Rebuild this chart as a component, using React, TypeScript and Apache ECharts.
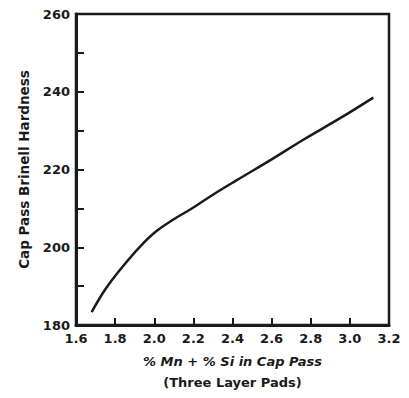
import React, { useEffect, useRef } from "react";
import * as echarts from "echarts";

const mnSi = [1.68, 1.75, 1.84, 1.93, 2.01, 2.1, 2.19, 2.29, 2.42, 2.6, 2.76, 2.95, 3.12];
const hardness = [183.3, 189.2, 195.1, 200.3, 204.1, 207.2, 209.9, 213.2, 217.2, 222.6, 227.6, 233.2, 238.5];

const xTitle = "% Mn + % Si in Cap Pass";
const xSubtitle = "(Three Layer Pads)";
const yTitle = "Cap Pass Brinell Hardness";

const FONT = "DejaVu Sans";

export default function App() {
  const ref = useRef<HTMLDivElement>(null);
  useEffect(() => {
    if (!ref.current) return;
    const chart = echarts.init(ref.current, null, { renderer: "svg" });
    const data = mnSi.map((x, i) => [x, hardness[i]]);
    chart.setOption({
      animation: false,
      backgroundColor: "#fff",
      grid: {
        left: 76,
        right: 20,
        top: 14,
        bottom: 73,
        show: true,
        borderColor: "#1a1a1a",
        borderWidth: 2.5,
      },
      xAxis: {
        type: "value",
        min: 1.6,
        max: 3.2,
        interval: 0.2,
        axisLine: { show: true, onZero: false, lineStyle: { color: "#1a1a1a", width: 3 } },
        axisTick: { show: true, inside: true, length: 7, lineStyle: { color: "#1a1a1a", width: 2 } },
        splitLine: { show: false },
        axisLabel: {
          margin: 7,
          color: "#1a1a1a",
          fontFamily: FONT,
          fontWeight: "bold",
          fontSize: 13,
          formatter: (v: number) => v.toFixed(1),
        },
        name: `{a|${xTitle}}\n{b|${xSubtitle}}`,
        nameLocation: "middle",
        nameGap: 26,
        nameTextStyle: {
          rich: {
            a: { fontFamily: FONT, fontWeight: "bold", fontStyle: "italic", fontSize: 13, color: "#1a1a1a", lineHeight: 21 },
            b: { fontFamily: FONT, fontWeight: "bold", fontSize: 13, color: "#1a1a1a", lineHeight: 21 },
          },
        },
      },
      yAxis: {
        type: "value",
        min: 180,
        max: 260,
        interval: 10,
        axisLine: { show: true, onZero: false, lineStyle: { color: "#1a1a1a", width: 3 } },
        axisTick: { show: true, inside: true, length: 8, lineStyle: { color: "#1a1a1a", width: 2 } },
        splitLine: { show: false },
        axisLabel: {
          margin: 6,
          color: "#1a1a1a",
          fontFamily: FONT,
          fontWeight: "bold",
          fontSize: 13,
          formatter: (v: number) => (v % 20 === 0 ? String(v) : ""),
        },
        name: yTitle,
        nameLocation: "middle",
        nameRotate: 90,
        nameGap: 45,
        nameTextStyle: { fontFamily: FONT, fontWeight: "bold", fontSize: 13.5, color: "#1a1a1a" },
      },
      series: [
        {
          type: "line",
          data,
          smooth: 0.4,
          showSymbol: false,
          lineStyle: { color: "#1a1a1a", width: 2.5 },
        },
      ],
    });
    return () => chart.dispose();
  }, []);
  return <div ref={ref} style={{ width: 409, height: 398, position: "absolute", left: 0, top: 0 }} />;
}
